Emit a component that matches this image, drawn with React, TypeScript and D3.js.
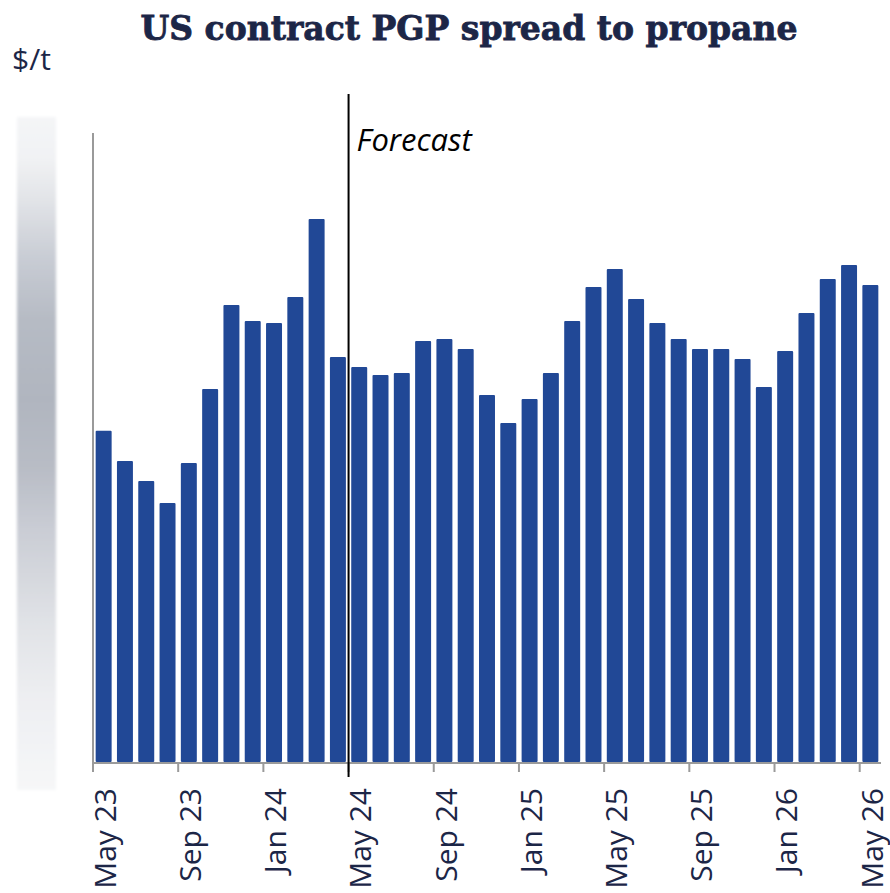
import React, { useEffect, useRef } from 'react';
import * as d3 from 'd3';

const months: string[] = [
  'May 23', 'Jun 23', 'Jul 23', 'Aug 23', 'Sep 23', 'Oct 23', 'Nov 23', 'Dec 23',
  'Jan 24', 'Feb 24', 'Mar 24', 'Apr 24', 'May 24', 'Jun 24', 'Jul 24', 'Aug 24',
  'Sep 24', 'Oct 24', 'Nov 24', 'Dec 24', 'Jan 25', 'Feb 25', 'Mar 25', 'Apr 25',
  'May 25', 'Jun 25', 'Jul 25', 'Aug 25', 'Sep 25', 'Oct 25', 'Nov 25', 'Dec 25',
  'Jan 26', 'Feb 26', 'Mar 26', 'Apr 26', 'May 26',
];

// $/t (the axis labels are blurred out in the original)
const spread: number[] = [
  158, 143.6, 134, 123.5, 142.6, 177.9, 218, 210.3,
  209.4, 221.8, 259, 193.2, 188.4, 184.6, 185.5, 200.8,
  201.8, 197, 175, 161.7, 173.1, 185.5, 210.3, 226.6,
  235.1, 220.8, 209.4, 201.8, 197, 197, 192.2, 178.9,
  196, 214.2, 230.4, 237, 227.5,
];

const tickLabels: string[] = [
  'May 23', 'Sep 23', 'Jan 24', 'May 24', 'Sep 24',
  'Jan 25', 'May 25', 'Sep 25', 'Jan 26', 'May 26',
];

const forecastStart = 'May 24';

const App = () => {
  const svgRef = useRef<SVGSVGElement>(null);

  useEffect(() => {
    if (!svgRef.current) return;
    const svg = d3.select(svgRef.current);
    svg.selectAll('*').remove();

    const w = 890;
    const h = 893;
    const left = 93;
    const right = 881;
    const top = 133;
    const bottom = 762;
    const navy = '#1c2647';
    const sans = "'Open Sans', sans-serif";

    svg.attr('width', w).attr('height', h);

    const x = d3.scaleBand<string>()
      .domain(months)
      .range([left, right])
      .paddingInner(0.25)
      .paddingOuter(0.125);

    const y = d3.scaleLinear().domain([0, 300]).range([bottom, top]);

    const gap = (x.step() - x.bandwidth()) / 2;
    const edge = (m: string) => (x(m) as number) - gap;

    // blurred y-axis labels
    const defs = svg.append('defs');
    const grad = defs.append('linearGradient')
      .attr('id', 'ygrad').attr('x1', 0).attr('y1', 0).attr('x2', 0).attr('y2', 1);
    [
      [0, '#f4f5f7'], [0.06, '#f1f2f4'], [0.13, '#e0e2e6'], [0.21, '#c8ccd4'],
      [0.3, '#b6bbc4'], [0.42, '#b0b5bf'], [0.52, '#b8bcc5'], [0.61, '#c9ccd4'],
      [0.75, '#e0e2e6'], [0.87, '#eeeff2'], [1, '#f6f7f8'],
    ].forEach(([o, c]) => grad.append('stop').attr('offset', o as number).attr('stop-color', c as string));
    defs.append('filter').attr('id', 'blur')
      .append('feGaussianBlur').attr('stdDeviation', 1.5);
    svg.append('rect')
      .attr('x', 17).attr('y', 117).attr('width', 39).attr('height', 673)
      .attr('fill', 'url(#ygrad)')
      .attr('filter', 'url(#blur)');

    // title + unit
    svg.append('text')
      .attr('x', 469).attr('y', 40)
      .attr('text-anchor', 'middle')
      .style('font-family', "'DejaVu Serif', serif")
      .style('font-weight', 700)
      .style('font-size', '33px')
      .attr('fill', navy)
      .attr('stroke', navy)
      .attr('stroke-width', 0.8)
      .text('US contract PGP spread to propane');

    svg.append('text')
      .attr('x', 12).attr('y', 70)
      .style('font-family', sans)
      .style('font-size', '30px')
      .attr('fill', navy)
      .text('$/t');

    // bars
    svg.append('g')
      .selectAll('rect')
      .data(spread)
      .enter()
      .append('rect')
      .attr('x', (d, i) => x(months[i]) as number)
      .attr('y', (d) => y(d))
      .attr('width', x.bandwidth())
      .attr('height', (d) => y(0) - y(d))
      .attr('rx', 1)
      .attr('fill', '#214896');

    // axes
    const axisColor = '#9a9a9a';
    svg.append('line')
      .attr('x1', left).attr('x2', left)
      .attr('y1', top).attr('y2', bottom + 1)
      .attr('stroke', axisColor).attr('stroke-width', 2);
    svg.append('line')
      .attr('x1', left - 1).attr('x2', right)
      .attr('y1', bottom + 1).attr('y2', bottom + 1)
      .attr('stroke', axisColor).attr('stroke-width', 2);

    const ticks = svg.append('g');
    ticks.selectAll('line')
      .data(tickLabels)
      .enter()
      .append('line')
      .attr('x1', (d) => edge(d)).attr('x2', (d) => edge(d))
      .attr('y1', bottom + 1).attr('y2', bottom + 10)
      .attr('stroke', axisColor).attr('stroke-width', 2);
    ticks.selectAll('text')
      .data(tickLabels)
      .enter()
      .append('text')
      .attr('transform', (d) => `translate(${edge(d)},788) rotate(-90)`)
      .attr('text-anchor', 'end')
      .attr('dy', '0.76em')
      .style('font-family', sans)
      .style('font-size', '30px')
      .attr('fill', navy)
      .text((d) => d);

    // forecast marker
    const fx = edge(forecastStart);
    svg.append('line')
      .attr('x1', fx).attr('x2', fx)
      .attr('y1', 94).attr('y2', 777)
      .attr('stroke', '#000').attr('stroke-width', 2);
    svg.append('text')
      .attr('x', fx + 8).attr('y', 151)
      .style('font-family', sans)
      .style('font-style', 'italic')
      .style('font-size', '31px')
      .attr('fill', '#000')
      .text('Forecast');
  }, []);

  return (
    <div style={{ position: 'absolute', left: 0, top: 0 }}>
      <svg ref={svgRef} style={{ display: 'block' }}></svg>
    </div>
  );
};

export default App;
